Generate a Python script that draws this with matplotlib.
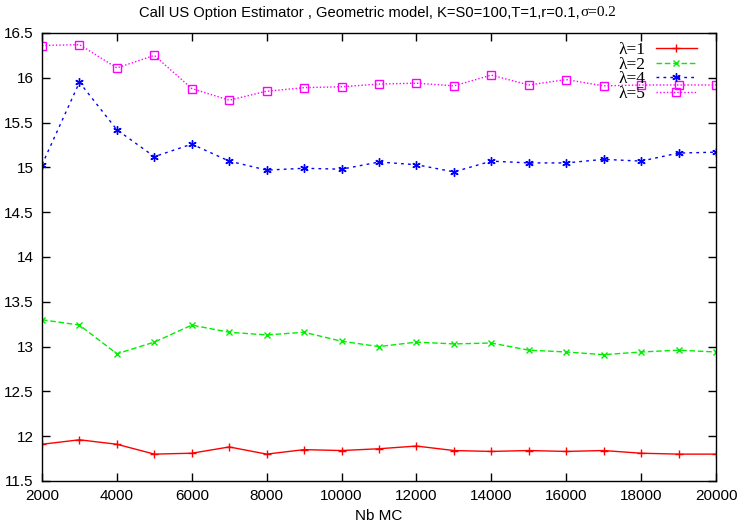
import matplotlib.pyplot as plt
from matplotlib.ticker import FormatStrFormatter, MultipleLocator

nb_mc = [2000, 3000, 4000, 5000, 6000, 7000, 8000, 9000, 10000, 11000,
         12000, 13000, 14000, 15000, 16000, 17000, 18000, 19000, 20000]

lambda1 = [11.91, 11.96, 11.91, 11.80, 11.81, 11.88, 11.80, 11.85, 11.84, 11.86,
           11.89, 11.84, 11.83, 11.84, 11.83, 11.84, 11.81, 11.80, 11.80]
lambda2 = [13.30, 13.24, 12.92, 13.05, 13.24, 13.16, 13.13, 13.16, 13.06, 13.00,
           13.05, 13.03, 13.04, 12.96, 12.94, 12.91, 12.94, 12.96, 12.94]
lambda4 = [15.03, 15.95, 15.42, 15.12, 15.26, 15.07, 14.97, 14.99, 14.98, 15.06,
           15.03, 14.95, 15.07, 15.05, 15.05, 15.09, 15.07, 15.16, 15.17]
lambda5 = [16.36, 16.37, 16.11, 16.25, 15.88, 15.75, 15.85, 15.89, 15.90, 15.93,
           15.94, 15.91, 16.03, 15.92, 15.98, 15.91, 15.92, 15.92, 15.92]

labels = ["λ=1", "λ=2", "λ=4", "λ=5"]

plt.rcParams['font.family'] = ['Liberation Sans', 'DejaVu Sans']

fig = plt.figure(figsize=(7.38, 5.25), dpi=100)
ax = fig.add_axes([42 / 738, 44 / 525, 674 / 738, 448 / 525])

ax.plot(nb_mc, lambda1, color='#ff0000', linestyle='-', lw=1, marker='+',
        ms=6, mew=1, label=labels[0])
ax.plot(nb_mc, lambda2, color='#00ee00', linestyle=(0, (4, 2)), lw=1, marker='x',
        ms=5, mew=1, label=labels[1])
ax.plot(nb_mc, lambda4, color='#0000ff', linestyle=(0, (2, 3)), lw=1, marker=(6, 2, 0),
        ms=6, mew=1, label=labels[2])
ax.plot(nb_mc, lambda5, color='#ff00ff', linestyle=(0, (1, 1.5)), lw=1, marker='s',
        ms=5.5, mew=1, fillstyle='none', label=labels[3])

ax.set_xlim(2000, 20000)
ax.set_ylim(11.5, 16.5)
ax.xaxis.set_major_locator(MultipleLocator(2000))
ax.yaxis.set_major_locator(MultipleLocator(0.5))
ax.yaxis.set_major_formatter(FormatStrFormatter('%g'))
ax.tick_params(direction='in', top=True, right=True, length=6, width=1,
               labelsize=11, pad=6)
for s in ax.spines.values():
    s.set_linewidth(1)

ax.set_xlabel("Nb MC", fontsize=11, labelpad=4)

leg = ax.legend(loc='upper right', frameon=False, markerfirst=False,
                handlelength=2.4, labelspacing=-0.08, handletextpad=0.6,
                borderaxespad=0.0, borderpad=0.5,
                bbox_to_anchor=(0.985, 1.0),
                prop={'family': 'Liberation Serif', 'size': 12.5})

fig.text(580 / 738, 1 - 13 / 525, "Call US Option Estimator , Geometric model, K=S0=100,T=1,r=0.1,",
         ha='right', va='center', fontsize=10.6)
fig.text(580 / 738, 1 - 13 / 525, "σ=0.2", ha='left', va='center', fontsize=11,
         family='Liberation Serif')

fig.savefig("out.png", dpi=100)
